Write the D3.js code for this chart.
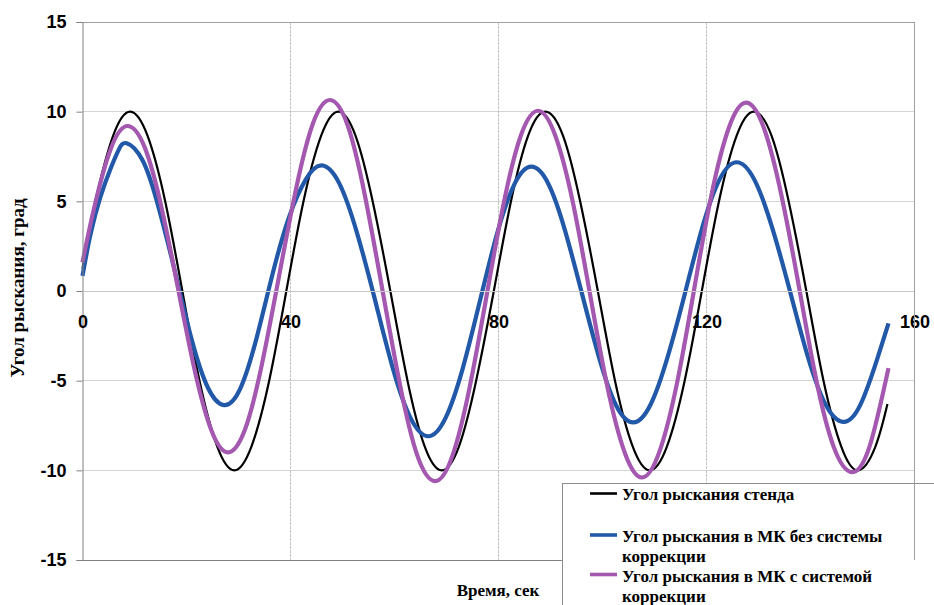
<!DOCTYPE html>
<html><head><meta charset="utf-8">
<script src="https://cdn.jsdelivr.net/npm/d3@7"></script>
<style>html,body{margin:0;padding:0;background:#fff;}svg{display:block;}</style>
</head><body>
<script>
// ---- data ----
const xTicks = [0, 40, 80, 120, 160];
const yTicks = [-15, -10, -5, 0, 5, 10, 15];
const seriesNames = ["Угол рыскания стенда", "Угол рыскания в МК без системы коррекции", "Угол рыскания в МК с системой коррекции"];

const standT = [0, 2.5, 5.9, 9.2, 12.5, 15.9, 19.2, 22.5, 25.9, 29.2, 32.5, 35.9, 39.2, 42.5, 45.9, 49.2, 52.5, 55.8, 59.2, 62.5, 65.8, 69.1, 72.4, 75.7, 79.1, 82.4, 85.7, 89.0, 92.4, 95.7, 99.1, 102.4, 105.8, 109.1, 112.4, 115.8, 119.1, 122.4, 125.8, 129.1, 132.5, 135.8, 139.2, 142.5, 145.9, 149.2, 152.5, 154.8];
const standV = [1.25, 5, 8.66, 10, 8.66, 5, 0, -5, -8.66, -10, -8.66, -5, 0, 5, 8.66, 10, 8.66, 5, 0, -5, -8.66, -10, -8.66, -5, 0, 5, 8.66, 10, 8.66, 5, 0, -5, -8.66, -10, -8.66, -5, 0, 5, 8.66, 10, 8.66, 5, 0, -5, -8.66, -10, -8.66, -6.3];

const nocT = [0, 1.5, 3.4, 5.5, 7.0, 8.5, 11.6, 14.7, 17.9, 21.0, 24.1, 27.2, 30.3, 33.5, 36.6, 39.7, 42.9, 46.0, 49.4, 52.8, 56.3, 59.7, 63.1, 66.5, 69.8, 73.1, 76.4, 79.7, 83.0, 86.3, 89.6, 92.8, 96.1, 99.4, 102.6, 105.9, 109.2, 112.5, 115.9, 119.2, 122.5, 125.8, 129.2, 132.6, 136.1, 139.5, 142.9, 146.3, 149.6, 152.9, 155.0];
const nocV = [0.85, 3.1, 5.2, 6.9, 7.9, 8.24, 7.26, 4.59, 0.94, -2.71, -5.38, -6.36, -5.47, -2.6, 1.0, 4.1, 6.2, 7.0, 5.99, 3.23, -0.55, -4.33, -7.09, -8.1, -7.09, -4.34, -0.59, 3.17, 5.92, 6.93, 5.97, 3.37, -0.2, -3.77, -6.37, -7.33, -6.36, -3.70, -0.08, 3.55, 6.21, 7.18, 6.21, 3.56, -0.06, -3.68, -6.33, -7.3, -6.34, -3.73, -1.8];

const corrT = [0, 2.25, 5.5, 8.75, 12.0, 15.2, 18.4, 21.6, 24.8, 28.0, 31.3, 34.5, 37.8, 41.1, 44.3, 47.6, 51.0, 54.3, 57.7, 61.1, 64.4, 67.8, 71.1, 74.4, 77.7, 81.0, 84.3, 87.6, 90.9, 94.3, 97.6, 100.9, 104.3, 107.6, 110.9, 114.3, 117.6, 120.9, 124.3, 127.6, 131.0, 134.4, 137.8, 141.1, 144.5, 147.9, 151.3, 155.0];
const corrV = [1.6, 4.65, 7.98, 9.2, 7.98, 4.65, 0.1, -4.45, -7.78, -9.0, -7.68, -4.09, 0.83, 5.74, 9.33, 10.65, 9.23, 5.34, 0.03, -5.29, -9.18, -10.6, -9.22, -5.44, -0.28, 4.89, 8.67, 10.05, 8.68, 4.94, -0.18, -5.29, -9.03, -10.4, -9.0, -5.18, 0.05, 5.28, 9.1, 10.5, 9.12, 5.35, 0.2, -4.95, -8.72, -10.1, -8.72, -4.3];

// ---- drawing ----
const W = 934, H = 605;
const svg = d3.select("body").append("svg").attr("width", W).attr("height", H);
const x = d3.scaleLinear().domain([0, 160]).range([82.5, 914.5]);
const y = d3.scaleLinear().domain([-15, 15]).range([560, 22]);

const sansB = "'Liberation Sans', Arial, sans-serif";
const serifB = "'Liberation Serif', 'Times New Roman', serif";

// gridlines
svg.append("g").selectAll("line").data(yTicks.filter(d => d > -15 && d < 15)).join("line")
  .attr("x1", x(0)).attr("x2", x(160)).attr("y1", d => y(d)).attr("y2", d => y(d))
  .attr("stroke", "#d4d4d4").attr("stroke-width", 1).attr("shape-rendering", "crispEdges");
svg.append("g").selectAll("line").data(xTicks.filter(d => d > 0 && d < 160)).join("line")
  .attr("x1", d => x(d)).attr("x2", d => x(d)).attr("y1", y(15)).attr("y2", y(-15))
  .attr("stroke", "#c4c4c4").attr("stroke-width", 1).attr("stroke-dasharray", "3,1").attr("shape-rendering", "crispEdges");

// top border & bottom line
svg.append("line").attr("x1", x(0)).attr("x2", x(160)).attr("y1", y(15)).attr("y2", y(15))
  .attr("stroke", "#a0a0a0").attr("shape-rendering", "crispEdges");
svg.append("line").attr("x1", x(0)).attr("x2", x(160)).attr("y1", y(-15)).attr("y2", y(-15))
  .attr("stroke", "#808080").attr("shape-rendering", "crispEdges");

// series
const series = [
  {t: standT, v: standV, color: "#000000", w: 2.2},
  {t: nocT, v: nocV, color: "#2158a8", w: 4.2},
  {t: corrT, v: corrV, color: "#a458b0", w: 4.2}
];
const line = d3.line().x(d => x(d[0])).y(d => y(d[1])).curve(d3.curveNatural);
series.forEach(s => {
  svg.append("path").datum(s.t.map((t, i) => [t, s.v[i]]))
    .attr("d", line).attr("fill", "none").attr("stroke", s.color)
    .attr("stroke-width", s.w).attr("stroke-linejoin", "round").attr("stroke-linecap", "butt");
});

// y axis
const yAxis = svg.append("g").attr("transform", `translate(${x(0)},0)`)
  .call(d3.axisLeft(y).tickValues(yTicks).tickSize(6).tickPadding(10)
    .tickFormat(d => d < 0 ? "-" + Math.abs(d) : String(d)));
yAxis.select(".domain").attr("stroke", "#808080");
yAxis.selectAll(".tick line").attr("stroke", "#808080");
yAxis.selectAll("text").attr("font-family", sansB).attr("font-weight", "bold")
  .attr("font-size", 18).attr("fill", "#000");

// x axis at y=0
const xAxis = svg.append("g").attr("transform", `translate(0,${y(0)})`)
  .call(d3.axisBottom(x).tickValues(xTicks).tickSize(0).tickPadding(24));
xAxis.select(".domain").attr("stroke", "#c8c8c8");
xAxis.selectAll("text").attr("font-family", sansB).attr("font-weight", "bold")
  .attr("font-size", 18).attr("fill", "#000");

// axis titles
svg.append("text").attr("transform", `translate(24,${y(0) - 3}) rotate(-90)`)
  .attr("text-anchor", "middle").attr("font-family", serifB).attr("font-weight", "bold")
  .attr("font-size", 19).text("Угол рыскания, град");
svg.append("text").attr("x", 498).attr("y", 596)
  .attr("text-anchor", "middle").attr("font-family", serifB).attr("font-weight", "bold")
  .attr("font-size", 17).text("Время, сек");

// legend
const lg = svg.append("g");
lg.append("rect").attr("x", 562).attr("y", 483).attr("width", 420).attr("height", 200)
  .attr("fill", "#fff").attr("stroke", "#8c8c8c").attr("shape-rendering", "crispEdges");
const legRows = [
  {ly: 493.5, lines: ["Угол рыскания стенда"], base: [500]},
  {ly: 535, lines: ["Угол рыскания в МК без системы", "коррекции"], base: [541.5, 562]},
  {ly: 574.5, lines: ["Угол рыскания в МК с системой", "коррекции"], base: [581.5, 601.5]}
];
legRows.forEach((r, i) => {
  lg.append("line").attr("x1", 590).attr("x2", 617).attr("y1", r.ly).attr("y2", r.ly)
    .attr("stroke", series[i].color).attr("stroke-width", i === 0 ? 2.6 : 3.6);
  r.lines.forEach((txt, j) => {
    lg.append("text").attr("x", 622).attr("y", r.base[j]).attr("font-family", serifB)
      .attr("font-weight", "bold").attr("font-size", 17).attr("fill", "#000").text(txt);
  });
});

// right border of plot area
svg.append("line").attr("x1", x(160)).attr("x2", x(160)).attr("y1", y(15)).attr("y2", y(-15))
  .attr("stroke", "#a0a0a0").attr("shape-rendering", "crispEdges");
</script>
</body></html>
